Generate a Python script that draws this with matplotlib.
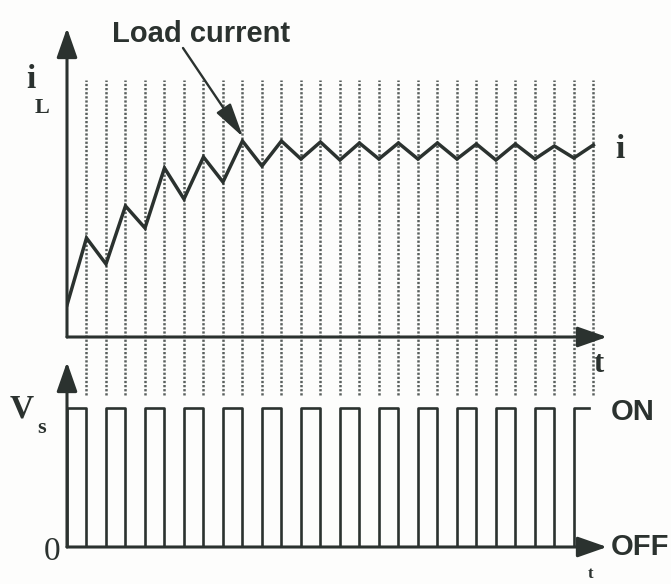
import matplotlib
matplotlib.use('Agg')
import matplotlib.pyplot as plt

# switching instants (in half-periods) and the load current at each instant
times = [0, 1, 2, 3, 4, 5, 6, 7, 8, 9, 10, 11, 12, 13, 14,
         15, 16, 17, 18, 19, 20, 21, 22, 23, 24, 25, 26, 27]
current = [0.32, 0.99, 0.73, 1.31, 1.09, 1.69, 1.38, 1.80, 1.55, 1.96,
           1.71, 1.96, 1.78, 1.95, 1.77, 1.94, 1.78, 1.94, 1.78, 1.94,
           1.78, 1.93, 1.77, 1.93, 1.78, 1.91, 1.79, 1.92]
# switch state for each interval starting at times[k] (1 = ON, 0 = OFF)
switch_state = [1, 0, 1, 0, 1, 0, 1, 0, 1, 0, 1, 0, 1, 0,
                1, 0, 1, 0, 1, 0, 1, 0, 1, 0, 1, 0, 1]
t_end = 26.8

W, H = 671, 584
ink = '#2b322f'
dots = '#5a605e'


def px(x, y):
    return x / W, 1 - y / H


fig = plt.figure(figsize=(W / 100, H / 100), dpi=100)
fig.patch.set_facecolor('#fdfdfc')

# top: load current
ax1 = fig.add_axes([67 / W, (H - 337) / H, 540 / W, (337 - 28) / H])
ax1.set_xlim(0, 27.7)
ax1.set_ylim(0, 3.09)
ax1.axis('off')
ax1.vlines(times[1:], -0.58, 2.57, colors=dots, lw=1.8,
           linestyles=(0, (0.9, 0.75)), clip_on=False)
ax1.plot(times, current, color=ink, lw=2.5, solid_joinstyle='miter')

# bottom: switch voltage
ax2 = fig.add_axes([67 / W, (H - 547) / H, 540 / W, (547 - 362) / H])
ax2.set_xlim(0, 27.7)
ax2.set_ylim(0, 185 / 139)
ax2.axis('off')
sx = [0] + times[:27] + [t_end]
sy = [0] + switch_state + [switch_state[-1]]
ax2.step(sx, sy, where='post', color=ink, lw=1.9)

arrow = dict(arrowstyle='-|>,head_length=1.2,head_width=0.42',
             color=ink, lw=2.2, mutation_scale=15, shrinkA=0, shrinkB=0)
for ax in (ax1, ax2):
    ax.annotate('', xy=(0, 1), xytext=(0, 0), xycoords='axes fraction',
                arrowprops=arrow)
    ax.annotate('', xy=(1, 0), xytext=(0, 0), xycoords='axes fraction',
                arrowprops=arrow)

# "Load current" pointer
ax1.annotate('', xy=px(243, 137), xytext=px(183, 48),
             xycoords='figure fraction', textcoords='figure fraction',
             arrowprops=dict(arrowstyle='-|>,head_length=1.4,head_width=0.35',
                             color=ink, lw=1.7, mutation_scale=15,
                             shrinkA=0, shrinkB=0))

sans = dict(family='Liberation Sans', weight='bold', color=ink)
serif = dict(family='Liberation Serif', weight='bold', color=ink)

fig.text(*px(112, 42), 'Load current', fontsize=21, va='baseline', **sans)
fig.text(*px(611, 420), 'ON', fontsize=21, va='baseline', **sans)
fig.text(*px(611, 555), 'OFF', fontsize=21, va='baseline', **sans)

fig.text(*px(26, 88), 'i', fontsize=24, va='baseline', **serif)
fig.text(*px(35, 113), 'L', fontsize=16, va='baseline', **serif)
fig.text(*px(615, 158), 'i', fontsize=24, va='baseline', **serif)
fig.text(*px(594, 372), 't', fontsize=22, va='baseline', **serif)
fig.text(*px(10, 418), 'V', fontsize=24, va='baseline', **serif)
fig.text(*px(37, 433), 's', fontsize=16, va='baseline', **serif)
fig.text(*px(44, 560), '0', fontsize=24, va='baseline',
         family='Liberation Serif', color=ink)
fig.text(*px(588, 578), 't', fontsize=12, va='baseline', **serif)

fig.savefig('out.png', dpi=100, facecolor=fig.get_facecolor())
